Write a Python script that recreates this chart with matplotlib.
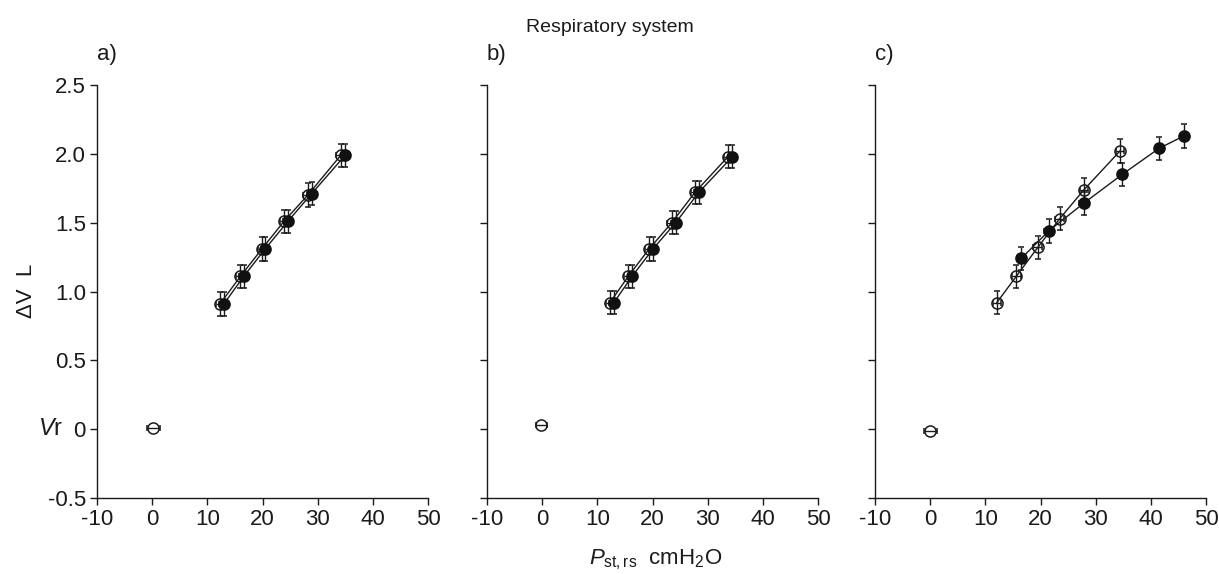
#!/usr/bin/env python3
import matplotlib
matplotlib.use("Agg")
import matplotlib.pyplot as plt
from matplotlib import font_manager

names = sorted({f.name for f in font_manager.fontManager.ttflist})
print([n for n in names if "ond" in n or "arrow" in n])
FONT = "Liberation Sans Narrow" if "Liberation Sans Narrow" in names else "Liberation Sans"
plt.rcParams["font.family"] = [FONT, "DejaVu Sans"]
plt.rcParams["mathtext.fontset"] = "custom"
plt.rcParams["mathtext.rm"] = FONT
plt.rcParams["mathtext.it"] = FONT + ":italic"
plt.rcParams["axes.unicode_minus"] = False

# --- data (cmH2O, L) ---
panels = ["a)", "b)", "c)"]

# origin point (Vr) per panel
zero_x = [0.2, -0.2, 0.0]
zero_y = [0.01, 0.03, -0.01]
zero_xerr = [1.2, 1.0, 1.2]

# open circles
open_x = [
    [12.3, 16.0, 19.9, 23.9, 28.2, 34.2],
    [12.3, 15.6, 19.4, 23.5, 27.7, 33.7],
    [12.1, 15.6, 19.5, 23.5, 27.9, 34.4],
]
open_y = [
    [0.91, 1.11, 1.31, 1.51, 1.70, 1.99],
    [0.92, 1.11, 1.31, 1.50, 1.72, 1.98],
    [0.92, 1.11, 1.32, 1.53, 1.74, 2.02],
]
# filled circles
fill_x = [
    [13.0, 16.6, 20.5, 24.6, 28.9, 35.0],
    [13.0, 16.3, 20.1, 24.2, 28.4, 34.5],
    [16.5, 21.5, 27.8, 34.8, 41.5, 46.0],
]
fill_y = [
    [0.91, 1.11, 1.31, 1.51, 1.71, 1.99],
    [0.92, 1.11, 1.31, 1.50, 1.72, 1.98],
    [1.24, 1.44, 1.64, 1.85, 2.04, 2.13],
]
# error bars (SEM)
open_yerr = [0.085, 0.085, 0.085, 0.085, 0.085, 0.085]
fill_yerr = [0.085, 0.085, 0.085, 0.085, 0.085, 0.085]
open_xerr = [0.8, 0.8, 0.8, 0.8, 0.8, 0.8]
fill_xerr = [0.8, 0.8, 0.8, 0.8, 0.8, 0.8]

yticks = [-0.5, 0.0, 0.5, 1.0, 1.5, 2.0, 2.5]
yticklabels = ["-0.5", "0", "0.5", "1.0", "1.5", "2.0", "2.5"]
xticks = [-10, 0, 10, 20, 30, 40, 50]

W, H = 1219, 574
fig = plt.figure(figsize=(W / 100, H / 100), dpi=100)

lefts = [97, 487, 875]
ax_w = 331
top, bottom = 85, 498

eb_kw = dict(color="#1a1a1a", lw=1.0, elinewidth=1.0, capsize=2.2, capthick=1.0,
             markersize=8, markeredgewidth=1.1)

axes = []
for i, lab in enumerate(panels):
    ax = fig.add_axes([lefts[i] / W, 1 - bottom / H, ax_w / W, (bottom - top) / H])
    axes.append(ax)
    ax.errorbar(open_x[i], open_y[i], yerr=open_yerr, xerr=open_xerr, fmt="-o",
                mfc="none", mec="#1a1a1a", zorder=3, **eb_kw)
    ax.errorbar(fill_x[i], fill_y[i], yerr=fill_yerr, xerr=fill_xerr, fmt="-o",
                mfc="#111111", mec="#111111", zorder=3, **eb_kw)
    ax.errorbar([zero_x[i]], [zero_y[i]], xerr=[zero_xerr[i]], fmt="o",
                mfc="none", mec="#1a1a1a", zorder=3, **eb_kw)

    ax.set_xlim(-10, 50)
    ax.set_ylim(-0.5, 2.5)
    ax.set_xticks(xticks)
    ax.set_yticks(yticks)
    ax.set_yticklabels(yticklabels if i == 0 else [])
    for s in ["top", "right"]:
        ax.spines[s].set_visible(False)
    for s in ["left", "bottom"]:
        ax.spines[s].set_linewidth(1.0)
        ax.spines[s].set_color("#1a1a1a")
    ax.tick_params(direction="out", length=5, width=1.0, labelsize=16,
                   colors="#1a1a1a", pad=3)
    ax.text(0.0, 1.075, lab, transform=ax.transAxes, fontsize=16,
            ha="left", va="center", color="#1a1a1a")

axes[0].text(-0.103, 0.0, r"$V$r", transform=axes[0].get_yaxis_transform(),
             fontsize=17, ha="right", va="center", color="#1a1a1a")

fig.text(0.5, 1 - 28 / H, "Respiratory system", fontsize=14, ha="center",
         va="center", color="#1a1a1a")
fig.text(27 / W, 1 - 291 / H, "\u0394V  L", fontsize=16, rotation=90,
         ha="center", va="center", color="#1a1a1a")
fig.text(656 / W, 1 - 560 / H, r"$P_{\rm st,rs}$  cmH$_2$O", fontsize=16,
         ha="center", va="center", color="#1a1a1a")

fig.savefig("out.png", dpi=100)
